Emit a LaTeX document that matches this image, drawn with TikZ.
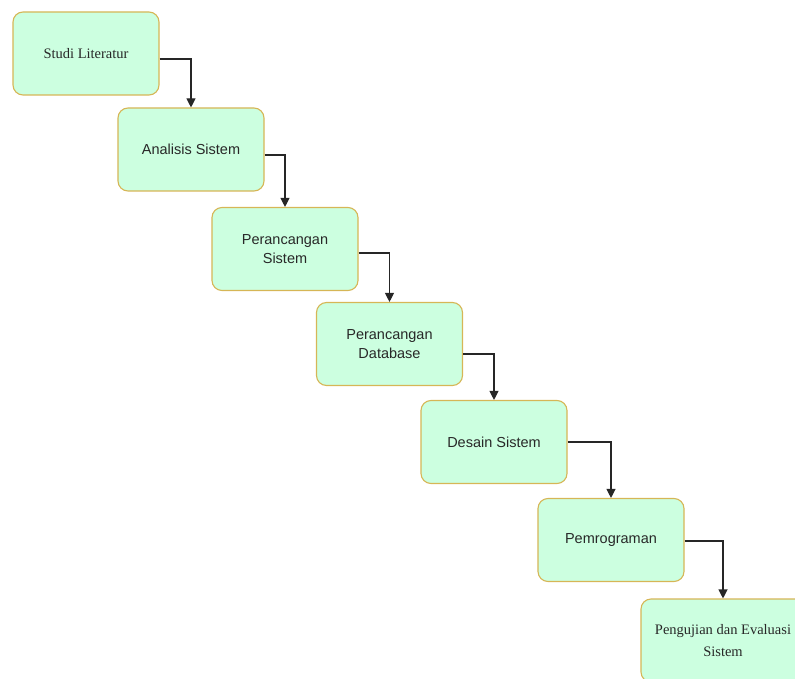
\documentclass[tikz,border=0pt]{standalone}
\usepackage{fontspec}
\setmainfont{Liberation Serif}
\newfontfamily\arialfont{Liberation Sans}
\usetikzlibrary{arrows.meta}
\definecolor{boxfill}{RGB}{204,255,224}
\definecolor{boxline}{RGB}{214,182,86}
\definecolor{txtgray}{RGB}{40,40,40}

\tikzset{
  stepbox/.style={draw=boxline, fill=boxfill, rounded corners=10pt, line width=1.1pt,
    minimum width=146pt, minimum height=83pt, inner sep=0pt, align=center,
    text=txtgray, font=\arialfont\fontsize{14.5}{19}\selectfont},
  serifbox/.style={stepbox, font=\rmfamily\fontsize{14.5}{21.5}\selectfont},
  flow/.style={-{Triangle[length=9pt,width=9pt]}, line width=1.1pt, black!85}
}

\begin{document}
\begin{tikzpicture}[x=1pt,y=-1pt]
\useasboundingbox (0,0) rectangle (795,679);

% steps
\node[serifbox] (lit) at (86,53.5) {Studi Literatur};
\node[stepbox] (anl) at (191,149.5) {Analisis Sistem};
\node[stepbox] (rnc) at (285,249) {Perancangan\\Sistem};
\node[stepbox] (db) at (389.5,344) {Perancangan\\Database};
\node[stepbox] (dsn) at (494,442) {Desain Sistem};
\node[stepbox] (prg) at (611,540) {Pemrograman};
\node[serifbox, minimum width=164pt] (uji) at (723,640.5) {Pengujian dan Evaluasi\\Sistem};

% arrows
\draw[flow] ([yshift=-5.5pt]lit.east) -| (anl.north);
\draw[flow] ([yshift=-5.5pt]anl.east) -| (rnc.north);
\draw[flow] ([yshift=-4pt]rnc.east) -| (db.north);
\draw[flow] ([yshift=-10pt]db.east) -| (dsn.north);
\draw[flow] (dsn.east) -| (prg.north);
\draw[flow] ([yshift=-1pt]prg.east) -| (uji.north);

\end{tikzpicture}
\end{document}
